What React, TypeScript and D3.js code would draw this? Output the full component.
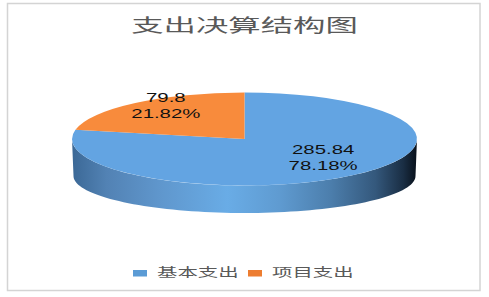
import React from "react";
import * as d3 from "d3";

const title = "支出决算结构图";
const categories = ["基本支出", "项目支出"];
const values = [285.84, 79.8];
const percents = ["78.18%", "21.82%"];
const colors = ["#63a4e2", "#f88b3c"];
const legendColors = ["#5b9bd5", "#ed7d31"];

const W = 489;
const H = 297;
const cx = 244.5;
const cy = 139;
const rx = 172.5;
const ry = 46.5;
const bcy = 176;
const bry = 37;
const brx = 171;
const SX = 1.7;

function pt(a: number, rX: number, rY: number, cY: number): [number, number] {
  return [cx + rX * Math.sin(a), cY - rY * Math.cos(a)];
}

export default function App() {
  const pie = d3.pie<number>().sort(null).value((d) => d);
  const arcs = pie(values);
  const arcGen = d3.arc<d3.PieArcDatum<number>>().innerRadius(0).outerRadius(rx);
  const k = ry / rx;

  // side: lower half of ellipse, from angle PI/2 to 3PI/2
  const N = 80;
  const topPts: [number, number][] = d3.range(N + 1).map((i) => pt(Math.PI / 2 + (Math.PI * i) / N, rx, ry, cy));
  const botPts: [number, number][] = d3.range(N + 1).map((i) => pt(Math.PI * 1.5 - (Math.PI * i) / N, brx, bry, bcy));
  const sidePath = d3.line()([...topPts, ...botPts]) + "Z";

  const labelR = rx * 0.72;

  return (
    <svg width={W} height={H} style={{ position: "absolute", left: 0, top: 0 }} fontFamily="'Liberation Sans', Arial, sans-serif">
      <defs>
        <linearGradient id="side" gradientUnits="userSpaceOnUse" x1={cx - rx} x2={cx + rx} y1={0} y2={0}>
          <stop offset="0" stopColor="#3b6896" />
          <stop offset="0.1" stopColor="#5282b4" />
          <stop offset="0.25" stopColor="#5f96cc" />
          <stop offset="0.45" stopColor="#69ace6" />
          <stop offset="0.6" stopColor="#5f9bd1" />
          <stop offset="0.75" stopColor="#4c7eac" />
          <stop offset="0.88" stopColor="#34587c" />
          <stop offset="0.96" stopColor="#1a2e44" />
          <stop offset="1" stopColor="#08101a" />
        </linearGradient>
      </defs>
      <rect x={7.5} y={3.5} width={472.5} height={287} fill="#fff" stroke="#d4d4d4" strokeWidth={1.5} />
      <text
        transform={`translate(${cx},32) scale(1.8,1)`}
        textAnchor="middle"
        fontSize={18}
        fill="#595959"
        fontFamily="'Noto Sans CJK SC', sans-serif"
      >
        {title}
      </text>
      <path d={sidePath} fill="url(#side)" />
      <g transform={`translate(${cx},${cy}) scale(1,${k})`}>
        {arcs.map((a, i) => (
          <path key={i} d={arcGen(a) || ""} fill={colors[i]} />
        ))}
      </g>
      {arcs.map((a, i) => {
        const mid = (a.startAngle + a.endAngle) / 2;
        const [x, y] = pt(mid, labelR, labelR * k, cy - 7);
        return (
          <g key={i} transform={`translate(${x},${y}) scale(${SX},1)`} fontSize={12} fill="#111" textAnchor="middle">
            <text y={-4}>{String(values[i])}</text>
            <text y={12}>{percents[i]}</text>
          </g>
        );
      })}
      {categories.map((c, i) => {
        const x0 = 133 + i * 115;
        return (
          <g key={c}>
            <rect x={x0} y={270} width={14} height={6.5} fill={legendColors[i]} />
            <text
              transform={`translate(${x0 + 24},277) scale(${SX},1)`}
              fontSize={12}
              fill="#595959"
              fontFamily="'Noto Sans CJK SC', sans-serif"
            >
              {c}
            </text>
          </g>
        );
      })}
    </svg>
  );
}
